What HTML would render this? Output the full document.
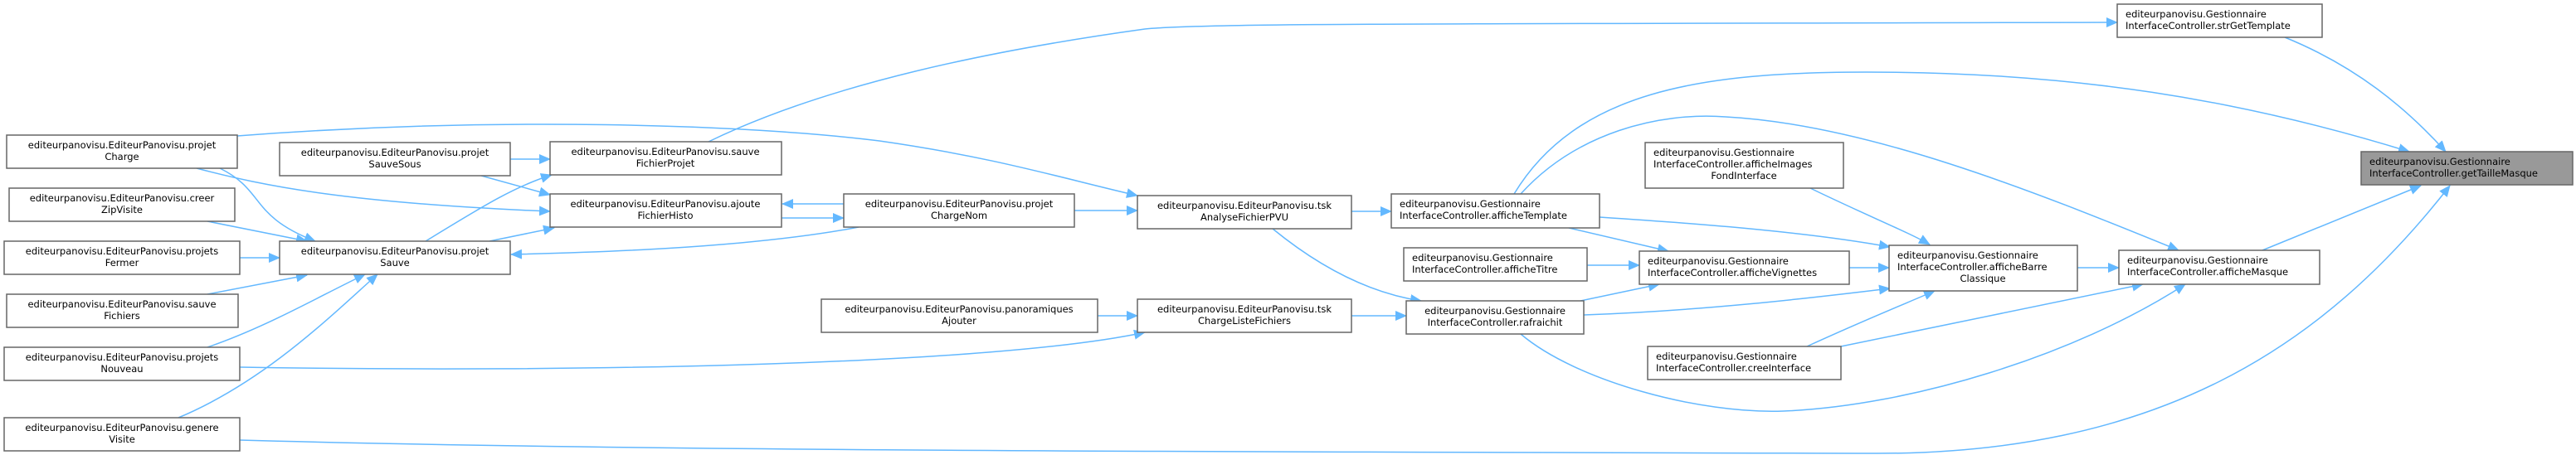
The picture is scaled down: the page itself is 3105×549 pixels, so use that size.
<!DOCTYPE html>
<html><head><meta charset="utf-8"><style>
html,body{margin:0;padding:0;background:#fff;}
svg{display:block;}
text{font-family:"DejaVu Sans","Liberation Sans",sans-serif;font-size:11.5px;fill:#000;}
.n{fill:#fff;stroke:#666;stroke-width:1.5;}
.e{fill:none;stroke:#63b8ff;stroke-width:1.5;}
</style></head><body>
<svg width="3105" height="549" viewBox="0 0 3105 549" xmlns="http://www.w3.org/2000/svg">
<defs>
<marker id="a" markerUnits="userSpaceOnUse" markerWidth="14" markerHeight="12" refX="13" refY="6" orient="auto">
<path d="M0,0 L14,6 L0,12 Z" fill="#63b8ff"/>
</marker>
</defs>
<g marker-end="url(#a)">
<path class="e" d="M237,203 C320,225 420,245 663,255"/>
<path class="e" d="M265,203 C320,230 300,260 380,291"/>
<path class="e" d="M286,164 C600,140 900,150 1060,170 C1200,190 1280,215 1371,236"/>
<path class="e" d="M250,267 L370,291"/>
<path class="e" d="M289,311 L337,311"/>
<path class="e" d="M250,355 L370,332"/>
<path class="e" d="M250,419 C320,395 380,360 440,331"/>
<path class="e" d="M215,504 C320,460 400,380 455,331"/>
<path class="e" d="M289,443 C700,450 1200,440 1380,401"/>
<path class="e" d="M289,531 C800,545 1500,545 2250,547 C2600,550 2800,420 2953,224"/>
<path class="e" d="M615,192 L663,192"/>
<path class="e" d="M580,212 L663,235"/>
<path class="e" d="M513,291 C580,250 620,225 665,211"/>
<path class="e" d="M590,291 L668,275"/>
<path class="e" d="M1035,274 C900,300 700,305 616,307"/>
<path class="e" d="M1017,246 L943,246"/>
<path class="e" d="M942,263 L1017,263"/>
<path class="e" d="M1295,254 L1371,254"/>
<path class="e" d="M854,171 C1000,100 1200,60 1380,35 C1450,28 1700,29 2552,27"/>
<path class="e" d="M1323,381 L1371,381"/>
<path class="e" d="M1629,255 L1677,255"/>
<path class="e" d="M1534,276 C1600,330 1660,355 1713,363"/>
<path class="e" d="M1629,381 L1695,381"/>
<path class="e" d="M1825,234 C1900,110 2050,87 2250,87 C2500,87 2700,120 2904,183"/>
<path class="e" d="M1833,234 C1900,160 2000,135 2080,141 C2250,150 2450,230 2626,302"/>
<path class="e" d="M1928,262 C2050,270 2180,280 2278,298"/>
<path class="e" d="M1891,275 L2011,303"/>
<path class="e" d="M1913,320 L1976,320"/>
<path class="e" d="M2182,227 C2250,260 2300,280 2326,295"/>
<path class="e" d="M2229,323 L2277,323"/>
<path class="e" d="M1905,363 L2000,343"/>
<path class="e" d="M1909,380 C2050,375 2180,360 2278,348"/>
<path class="e" d="M1833,403 C1900,460 2050,500 2150,496 C2300,490 2500,430 2634,343"/>
<path class="e" d="M2178,418 C2250,385 2300,365 2332,351"/>
<path class="e" d="M2219,418 C2350,390 2480,365 2583,343"/>
<path class="e" d="M2504,323 L2554,323"/>
<path class="e" d="M2727,302 L2918,224"/>
<path class="e" d="M2754,45 C2840,80 2900,130 2948,183"/>
</g>
<g>
<rect class="n" x="8" y="163" width="278" height="40"/><text x="147" y="179" text-anchor="middle">editeurpanovisu.EditeurPanovisu.projet</text><text x="147" y="193" text-anchor="middle">Charge</text>
<rect class="n" x="11" y="227" width="272" height="40"/><text x="147" y="243" text-anchor="middle">editeurpanovisu.EditeurPanovisu.creer</text><text x="147" y="257" text-anchor="middle">ZipVisite</text>
<rect class="n" x="5" y="291" width="284" height="40"/><text x="147" y="307" text-anchor="middle">editeurpanovisu.EditeurPanovisu.projets</text><text x="147" y="321" text-anchor="middle">Fermer</text>
<rect class="n" x="8" y="355" width="279" height="40"/><text x="147" y="371" text-anchor="middle">editeurpanovisu.EditeurPanovisu.sauve</text><text x="147" y="385" text-anchor="middle">Fichiers</text>
<rect class="n" x="5" y="419" width="284" height="40"/><text x="147" y="435" text-anchor="middle">editeurpanovisu.EditeurPanovisu.projets</text><text x="147" y="449" text-anchor="middle">Nouveau</text>
<rect class="n" x="5" y="504" width="284" height="40"/><text x="147" y="520" text-anchor="middle">editeurpanovisu.EditeurPanovisu.genere</text><text x="147" y="534" text-anchor="middle">Visite</text>
<rect class="n" x="337" y="172" width="278" height="40"/><text x="476" y="188" text-anchor="middle">editeurpanovisu.EditeurPanovisu.projet</text><text x="476" y="202" text-anchor="middle">SauveSous</text>
<rect class="n" x="337" y="291" width="278" height="40"/><text x="476" y="307" text-anchor="middle">editeurpanovisu.EditeurPanovisu.projet</text><text x="476" y="321" text-anchor="middle">Sauve</text>
<rect class="n" x="663" y="171" width="279" height="40"/><text x="802" y="187" text-anchor="middle">editeurpanovisu.EditeurPanovisu.sauve</text><text x="802" y="201" text-anchor="middle">FichierProjet</text>
<rect class="n" x="663" y="234" width="279" height="40"/><text x="802" y="250" text-anchor="middle">editeurpanovisu.EditeurPanovisu.ajoute</text><text x="802" y="264" text-anchor="middle">FichierHisto</text>
<rect class="n" x="1017" y="234" width="278" height="40"/><text x="1156" y="250" text-anchor="middle">editeurpanovisu.EditeurPanovisu.projet</text><text x="1156" y="264" text-anchor="middle">ChargeNom</text>
<rect class="n" x="990" y="361" width="333" height="40"/><text x="1156" y="377" text-anchor="middle">editeurpanovisu.EditeurPanovisu.panoramiques</text><text x="1156" y="391" text-anchor="middle">Ajouter</text>
<rect class="n" x="1371" y="236" width="258" height="40"/><text x="1500" y="252" text-anchor="middle">editeurpanovisu.EditeurPanovisu.tsk</text><text x="1500" y="266" text-anchor="middle">AnalyseFichierPVU</text>
<rect class="n" x="1371" y="361" width="258" height="40"/><text x="1500" y="377" text-anchor="middle">editeurpanovisu.EditeurPanovisu.tsk</text><text x="1500" y="391" text-anchor="middle">ChargeListeFichiers</text>
<rect class="n" x="1677" y="234" width="251" height="41"/><text x="1687" y="250">editeurpanovisu.Gestionnaire</text><text x="1687" y="264">InterfaceController.afficheTemplate</text>
<rect class="n" x="1692" y="299" width="221" height="40"/><text x="1702" y="315">editeurpanovisu.Gestionnaire</text><text x="1702" y="329">InterfaceController.afficheTitre</text>
<rect class="n" x="1695" y="363" width="214" height="40"/><text x="1802" y="379" text-anchor="middle">editeurpanovisu.Gestionnaire</text><text x="1802" y="393" text-anchor="middle">InterfaceController.rafraichit</text>
<rect class="n" x="1983" y="172" width="239" height="55"/><text x="1993" y="188">editeurpanovisu.Gestionnaire</text><text x="1993" y="202">InterfaceController.afficheImages</text><text x="2102" y="216" text-anchor="middle">FondInterface</text>
<rect class="n" x="1976" y="303" width="253" height="40"/><text x="1986" y="319">editeurpanovisu.Gestionnaire</text><text x="1986" y="333">InterfaceController.afficheVignettes</text>
<rect class="n" x="1986" y="418" width="233" height="40"/><text x="1996" y="434">editeurpanovisu.Gestionnaire</text><text x="1996" y="448">InterfaceController.creeInterface</text>
<rect class="n" x="2552" y="5" width="247" height="40"/><text x="2562" y="21">editeurpanovisu.Gestionnaire</text><text x="2562" y="35">InterfaceController.strGetTemplate</text>
<rect class="n" x="2277" y="296" width="227" height="55"/><text x="2287" y="312">editeurpanovisu.Gestionnaire</text><text x="2287" y="326">InterfaceController.afficheBarre</text><text x="2390" y="340" text-anchor="middle">Classique</text>
<rect class="n" x="2554" y="302" width="242" height="41"/><text x="2564" y="318">editeurpanovisu.Gestionnaire</text><text x="2564" y="332">InterfaceController.afficheMasque</text>
<rect x="2846" y="183" width="255" height="40" fill="#999" stroke="#666" stroke-width="1.5"/><text x="2856" y="199">editeurpanovisu.Gestionnaire</text><text x="2856" y="213">InterfaceController.getTailleMasque</text>
</g>
</svg>
</body></html>
